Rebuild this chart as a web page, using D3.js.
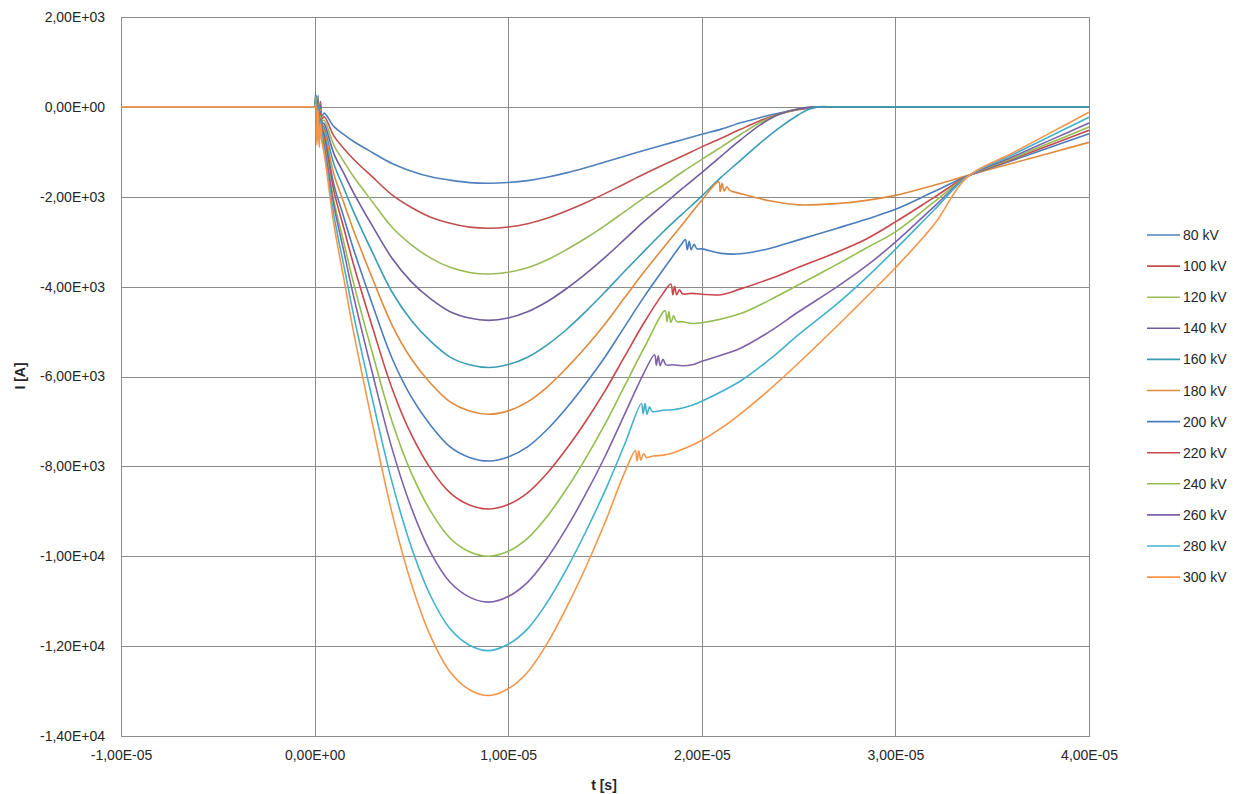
<!DOCTYPE html>
<html>
<head>
<meta charset="utf-8">
<script src="https://cdn.jsdelivr.net/npm/d3@7"></script>
<style>
  html, body { margin: 0; padding: 0; background: #fff; }
  svg { display: block; }
  text { font-family: "Liberation Sans", Arial, sans-serif; fill: #262626; }
</style>
</head>
<body>
<svg id="chart" width="1247" height="794"></svg>
<script>
// ---------- data (time in units of 1e-5 s, current in A) ----------
const seriesNames = ["80 kV","100 kV","120 kV","140 kV","160 kV","180 kV","200 kV","220 kV","240 kV","260 kV","280 kV","300 kV"];
const seriesColors = ["#4F81BD","#C0504D","#9BBB59","#705C9E","#3A9CB4","#E08A3C","#4A7DBE","#C8474B","#93BE4F","#7E62AA","#41B2CD","#F7964A"];

const xTicks = [-1, 0, 1, 2, 3, 4];
const xTickLabels = ["-1,00E-05","0,00E+00","1,00E-05","2,00E-05","3,00E-05","4,00E-05"];
const yTicks = [2000, 0, -2000, -4000, -6000, -8000, -10000, -12000, -14000];
const yTickLabels = ["2,00E+03","0,00E+00","-2,00E+03","-4,00E+03","-6,00E+03","-8,00E+03","-1,00E+04","-1,20E+04","-1,40E+04"];

// pre-trigger baseline
const baseT = [-1.0, -0.5, -0.01];
const baseI = [0, 0, 0];

// trigger spikes
const spikeT = [0.0, 0.006, 0.012, 0.018, 0.024, 0.03, 0.038];
const spike80  = [0, 180, -250, 220, -300, 120, -200];
const spike100 = [0, 240, -320, 180, -380, 90, -260];
const spike120 = [0, 150, -380, 260, -420, 60, -300];
const spike140 = [0, 280, -300, 150, -450, 40, -340];
const spike160 = [0, 200, -450, 240, -500, -20, -380];
const spike180 = [0, 120, -520, 200, -560, -60, -420];
const spike200 = [0, 260, -480, 160, -600, -100, -470];
const spike220 = [0, 140, -600, 120, -650, -150, -520];
const spike240 = [0, 220, -650, 80, -700, -200, -580];
const spike260 = [0, 100, -700, 40, -760, -260, -640];
const spike280 = [0, 160, -760, 0, -820, -320, -700];
const spike300 = [0, 60, -850, -60, -900, -380, -780];

// main discharge hump
const humpT = [0.05,0.1,0.15,0.2,0.3,0.4,0.5,0.6,0.7,0.8,0.9,1.0,1.1,1.2,1.3,1.4,1.5,1.6];
const hump80  = [-140,-440,-610,-765,-1020,-1260,-1430,-1555,-1630,-1685,-1700,-1683,-1641,-1567,-1469,-1353,-1227,-1097];
const hump100 = [-220,-650,-920,-1160,-1565,-1960,-2240,-2455,-2590,-2675,-2700,-2673,-2600,-2479,-2317,-2133,-1931,-1715];
const hump120 = [-300,-855,-1210,-1545,-2120,-2680,-3070,-3365,-3570,-3685,-3720,-3680,-3580,-3408,-3180,-2924,-2641,-2336];
const hump140 = [-380,-1045,-1470,-1900,-2660,-3370,-3895,-4275,-4560,-4700,-4750,-4698,-4560,-4337,-4047,-3715,-3349,-2955];
const hump160 = [-465,-1275,-1800,-2320,-3250,-4120,-4755,-5220,-5570,-5740,-5800,-5735,-5570,-5300,-4960,-4555,-4120,-3665];
const hump180 = [-545,-1505,-2120,-2735,-3830,-4855,-5610,-6155,-6565,-6770,-6840,-6765,-6565,-6240,-5820,-5350,-4830,-4255];
const hump200 = [-630,-1735,-2445,-3150,-4415,-5595,-6460,-7090,-7565,-7800,-7880,-7790,-7565,-7185,-6705,-6160,-5565,-4900];
const hump220 = [-715,-1880,-2685,-3490,-4920,-6265,-7295,-8055,-8590,-8860,-8950,-8850,-8590,-8160,-7615,-7000,-6320,-5565];
const hump240 = [-800,-2100,-3000,-3900,-5500,-7000,-8150,-9000,-9600,-9900,-10000,-9890,-9600,-9120,-8510,-7820,-7060,-6220];
const hump260 = [-880,-2205,-3195,-4190,-5950,-7605,-8925,-9920,-10580,-10910,-11020,-10895,-10580,-10050,-9380,-8620,-7780,-6855];
const hump280 = [-970,-2420,-3510,-4600,-6535,-8350,-9800,-10890,-11615,-11980,-12100,-11960,-11615,-11035,-10300,-9460,-8545,-7525];
const hump300 = [-1050,-2620,-3800,-4980,-7075,-9040,-10610,-11790,-12575,-12970,-13100,-12950,-12580,-11950,-11150,-10250,-9250,-8150];

// tails (return to zero, or chop with oscillation and slow recovery)
const tailT80  = [1.7,1.8,1.9,2.0,2.1,2.2,2.3,2.4,2.5,2.6,2.7,4.0];
const tailI80  = [-970,-850,-730,-610,-495,-355,-240,-135,-60,0,0,0];
const tailT100 = [1.7,1.8,1.9,2.0,2.1,2.2,2.3,2.4,2.5,2.6,2.7,4.0];
const tailI100 = [-1500,-1295,-1095,-890,-700,-500,-310,-160,-55,0,0,0];
const tailT120 = [1.7,1.8,1.9,2.0,2.1,2.2,2.3,2.4,2.5,2.6,2.7,4.0];
const tailI120 = [-2030,-1750,-1450,-1170,-895,-615,-355,-165,-45,0,0,0];
const tailT140 = [1.7,1.8,1.9,2.0,2.1,2.2,2.3,2.4,2.5,2.6,2.7,4.0];
const tailI140 = [-2555,-2185,-1815,-1465,-1095,-735,-405,-165,-40,0,0,0];
const tailT160 = [1.7,1.8,1.9,2.0,2.1,2.2,2.3,2.4,2.5,2.55,2.6,2.7,4.0];
const tailI160 = [-3220,-2785,-2380,-1985,-1565,-1190,-810,-465,-175,-60,0,0,0];
const tailT180 = [1.7,1.8,1.9,2.0,2.087,2.095,2.105,2.115,2.13,2.145,2.2,2.35,2.5,2.7,2.85,3.0,3.2,3.37,3.6,3.8,4.0];
const tailI180 = [-3680,-3145,-2615,-2080,-1664,-1880,-1700,-1870,-1780,-1860,-1930,-2090,-2180,-2150,-2080,-1970,-1745,-1530,-1260,-1025,-790];
const tailT200 = [1.7,1.8,1.9,1.915,1.925,1.935,1.945,1.96,1.975,2.0,2.1,2.2,2.35,2.5,2.7,2.85,3.0,3.2,3.37,3.6,3.8,4.0];
const tailI200 = [-4240,-3625,-3030,-2950,-3180,-2990,-3180,-3060,-3160,-3160,-3260,-3270,-3150,-2960,-2700,-2500,-2280,-1885,-1545,-1200,-900,-600];
const tailT220 = [1.7,1.8,1.84,1.85,1.86,1.87,1.885,1.9,1.95,2.0,2.1,2.2,2.35,2.5,2.7,2.85,3.0,3.2,3.37,3.6,3.8,4.0];
const tailI220 = [-4815,-4150,-3940,-4180,-3990,-4180,-4070,-4160,-4150,-4170,-4180,-4050,-3830,-3570,-3230,-2940,-2560,-2015,-1550,-1175,-847,-520];
const tailT240 = [1.7,1.81,1.82,1.83,1.84,1.855,1.87,1.9,1.95,2.0,2.2,2.35,2.5,2.7,2.85,3.0,3.2,3.37,3.6,3.8,4.0];
const tailI240 = [-5380,-4535,-4780,-4560,-4800,-4650,-4780,-4780,-4820,-4805,-4600,-4300,-3960,-3500,-3140,-2780,-2115,-1555,-1152,-800,-450];
const tailT260 = [1.7,1.756,1.765,1.775,1.785,1.8,1.815,1.85,1.9,1.95,2.0,2.2,2.35,2.5,2.7,2.85,3.0,3.2,3.37,3.6,3.8,4.0];
const tailI260 = [-5930,-5515,-5750,-5540,-5760,-5620,-5740,-5740,-5760,-5740,-5660,-5370,-5000,-4560,-4000,-3540,-3010,-2220,-1560,-1122,-740,-360];
const tailT280 = [1.688,1.697,1.707,1.717,1.73,1.745,1.8,1.85,1.9,1.95,2.0,2.2,2.35,2.5,2.7,2.85,3.0,3.2,3.37,3.6,3.8,4.0];
const tailI280 = [-6600,-6830,-6600,-6840,-6680,-6780,-6750,-6740,-6700,-6640,-6550,-6100,-5620,-5070,-4380,-3800,-3170,-2295,-1560,-1075,-652,-230];
const tailT300 = [1.657,1.665,1.675,1.685,1.7,1.715,1.75,1.8,1.85,1.9,1.95,2.0,2.1,2.2,2.35,2.5,2.7,2.85,3.0,3.2,3.37,3.6,3.8,4.0];
const tailI300 = [-7650,-7880,-7660,-7860,-7720,-7800,-7770,-7750,-7700,-7620,-7530,-7420,-7150,-6830,-6290,-5700,-4870,-4230,-3580,-2620,-1565,-1038,-578,-120];

const spikes = [spike80,spike100,spike120,spike140,spike160,spike180,spike200,spike220,spike240,spike260,spike280,spike300];
const humps  = [hump80,hump100,hump120,hump140,hump160,hump180,hump200,hump220,hump240,hump260,hump280,hump300];
const tailTs = [tailT80,tailT100,tailT120,tailT140,tailT160,tailT180,tailT200,tailT220,tailT240,tailT260,tailT280,tailT300];
const tailIs = [tailI80,tailI100,tailI120,tailI140,tailI160,tailI180,tailI200,tailI220,tailI240,tailI260,tailI280,tailI300];

// ---------- build ----------
const series = seriesNames.map((name, k) => {
  const pts = [];
  baseT.forEach((t, j) => pts.push([t, baseI[j]]));
  spikeT.forEach((t, j) => pts.push([t, spikes[k][j]]));
  humpT.forEach((t, j) => pts.push([t, humps[k][j]]));
  tailTs[k].forEach((t, j) => pts.push([t, tailIs[k][j]]));
  return { name, color: seriesColors[k], pts };
});

// ---------- layout ----------
const plot = { left: 121, right: 1089, top: 17, bottom: 736 };
const svg = d3.select("#chart");

const x = d3.scaleLinear().domain([-1, 4]).range([plot.left, plot.right]);
const y = d3.scaleLinear().domain([-14000, 2000]).range([plot.bottom, plot.top]);

const gridColor = "#8c8c8c";

// horizontal gridlines + y labels
const yAxis = d3.axisLeft(y)
  .tickValues(yTicks)
  .tickSize(-(plot.right - plot.left))
  .tickPadding(16)
  .tickFormat((d, i) => yTickLabels[i]);
const gy = svg.append("g").attr("transform", `translate(${plot.left},0)`).call(yAxis);
gy.select(".domain").remove();
gy.selectAll(".tick line").attr("stroke", gridColor).attr("stroke-width", 1).attr("shape-rendering", "crispEdges");
gy.selectAll(".tick text").attr("font-size", 14).attr("font-family", "Liberation Sans, Arial, sans-serif").attr("fill", "#262626");

// vertical gridlines + x labels
const xAxis = d3.axisBottom(x)
  .tickValues(xTicks)
  .tickSize(-(plot.bottom - plot.top))
  .tickPadding(14)
  .tickFormat((d, i) => xTickLabels[i]);
const gx = svg.append("g").attr("transform", `translate(0,${plot.bottom})`).call(xAxis);
gx.select(".domain").remove();
gx.selectAll(".tick line").attr("stroke", gridColor).attr("stroke-width", 1).attr("shape-rendering", "crispEdges");
gx.selectAll(".tick text").attr("font-size", 14).attr("font-family", "Liberation Sans, Arial, sans-serif").attr("fill", "#262626");

// plot border
svg.append("rect")
  .attr("x", plot.left).attr("y", plot.top)
  .attr("width", plot.right - plot.left).attr("height", plot.bottom - plot.top)
  .attr("fill", "none").attr("stroke", gridColor).attr("stroke-width", 1)
  .attr("shape-rendering", "crispEdges");

// lines
const line = d3.line()
  .x(d => x(d[0]))
  .y(d => y(d[1]))
  .curve(d3.curveCatmullRom.alpha(0.5));

const gLines = svg.append("g");
series.forEach(s => {
  gLines.append("path")
    .datum(s.pts)
    .attr("fill", "none")
    .attr("stroke", s.color)
    .attr("stroke-width", 1.6)
    .attr("stroke-linejoin", "round")
    .attr("d", line);
});

// axis titles
svg.append("text")
  .attr("x", 604).attr("y", 790)
  .attr("text-anchor", "middle")
  .attr("font-size", 14).attr("font-weight", "bold")
  .text("t [s]");
svg.append("text")
  .attr("transform", "translate(25,376) rotate(-90)")
  .attr("text-anchor", "middle")
  .attr("font-size", 14).attr("font-weight", "bold")
  .text("I [A]");

// legend
const legend = svg.append("g");
series.forEach((s, i) => {
  const cy = 235 + i * 31.1;
  legend.append("line")
    .attr("x1", 1147).attr("x2", 1180)
    .attr("y1", cy).attr("y2", cy)
    .attr("stroke", s.color).attr("stroke-width", 1.6);
  legend.append("text")
    .attr("x", 1183).attr("y", cy)
    .attr("dominant-baseline", "central")
    .attr("font-size", 14)
    .text(s.name);
});
</script>
</body>
</html>
